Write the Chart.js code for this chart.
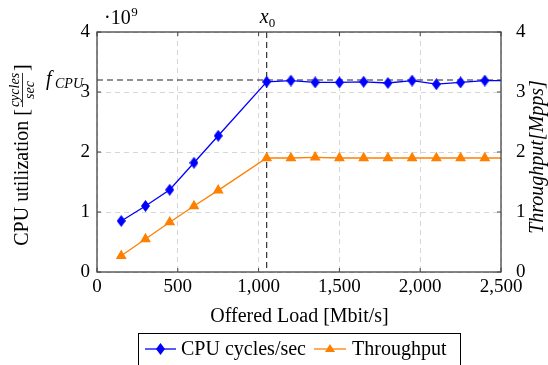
<!DOCTYPE html>
<html lang="en">
<head>
  <meta charset="UTF-8">
  <title>CPU cycles vs throughput</title>
  <script src="https://cdn.jsdelivr.net/npm/chart.js"></script>
  <style>
    html, body { margin: 0; padding: 0; background: #fff; }
    #wrap { width: 548px; height: 365px; }
  </style>
</head>
<body>
  <div id="wrap"><canvas id="chart" width="548" height="365"></canvas></div>

  <script>
    // offered load (Mbit/s), last point lies past the axis end and gets clipped
    const loads = [150, 300, 450, 600, 750, 1050, 1200, 1350, 1500, 1650, 1800, 1950, 2100, 2250, 2400, 2550];
    // CPU cycles/sec in units of 1e9
    const cpuCycles = [0.85, 1.10, 1.37, 1.82, 2.27, 3.17, 3.19, 3.16, 3.16, 3.17, 3.15, 3.19, 3.13, 3.16, 3.19, 3.19];
    // throughput in Mpps
    const throughput = [0.27, 0.55, 0.83, 1.10, 1.36, 1.90, 1.90, 1.91, 1.90, 1.90, 1.90, 1.90, 1.90, 1.90, 1.90, 1.90];
    const xRange = [0, 2500];
    const yRange = [0, 4];
    const fCpu = 3.2;
    const x0 = 1050;

    const SERIF = "'Liberation Serif', 'DejaVu Serif', serif";
    const BLUE = '#0000ff';
    const ORANGE = '#ff8000';

    // tall narrow diamond like pgfplots diamond*
    function diamond(color) {
      const c = document.createElement('canvas');
      c.width = 9; c.height = 12;
      const g = c.getContext('2d');
      g.fillStyle = color;
      g.beginPath();
      g.moveTo(4.5, 0); g.lineTo(9, 6); g.lineTo(4.5, 12); g.lineTo(0, 6);
      g.closePath(); g.fill();
      return c;
    }
    const diamondImg = diamond(BLUE);

    const lastHidden = ctx => ctx.dataIndex === loads.length - 1 ? 0 : 5;

    const extras = {
      id: 'extras',
      beforeDatasetsDraw(chart) {
        const { ctx, chartArea: a, scales } = chart;
        const yf = scales.y.getPixelForValue(fCpu);
        const xv = scales.x.getPixelForValue(x0);
        ctx.save();
        ctx.strokeStyle = '#222';
        ctx.lineWidth = 1.1;
        ctx.setLineDash([6, 4]);
        ctx.beginPath();
        ctx.moveTo(a.left, yf); ctx.lineTo(a.right, yf);
        ctx.moveTo(xv, a.top); ctx.lineTo(xv, a.bottom);
        ctx.stroke();
        ctx.restore();
      },
      afterDraw(chart) {
        const { ctx, chartArea: a, scales } = chart;
        ctx.save();
        // frame
        ctx.strokeStyle = '#444';
        ctx.lineWidth = 1.3;
        ctx.strokeRect(a.left, a.top, a.right - a.left, a.bottom - a.top);
        // inward tick marks
        ctx.lineWidth = 1;
        ctx.beginPath();
        scales.x.ticks.forEach(t => {
          const px = scales.x.getPixelForValue(t.value);
          ctx.moveTo(px, a.bottom); ctx.lineTo(px, a.bottom - 4);
          ctx.moveTo(px, a.top); ctx.lineTo(px, a.top + 4);
        });
        scales.y.ticks.forEach(t => {
          const py = scales.y.getPixelForValue(t.value);
          ctx.moveTo(a.left, py); ctx.lineTo(a.left + 4, py);
          ctx.moveTo(a.right, py); ctx.lineTo(a.right - 4, py);
        });
        ctx.stroke();

        ctx.fillStyle = '#000';
        ctx.textBaseline = 'alphabetic';
        // ·10^9
        ctx.font = '20px ' + SERIF;
        ctx.textAlign = 'left';
        ctx.fillText('\u00b710', 104, 24);
        const wPow = ctx.measureText('\u00b710').width;
        ctx.font = '13px ' + SERIF;
        ctx.fillText('9', 104 + wPow + 0.5, 16);
        // x0
        const xv = scales.x.getPixelForValue(x0);
        ctx.font = 'italic 20px ' + SERIF;
        ctx.textAlign = 'right';
        ctx.fillText('x', xv + 2, 23);
        ctx.font = '13px ' + SERIF;
        ctx.textAlign = 'left';
        ctx.fillText('0', xv + 2, 27);
        // f_CPU
        const yf = scales.y.getPixelForValue(fCpu);
        ctx.font = 'italic 20px ' + SERIF;
        ctx.fillText('f', 46, yf + 5);
        ctx.font = 'italic 14px ' + SERIF;
        ctx.fillText('CPU', 55, yf + 8);

        // x axis title
        ctx.font = '20px ' + SERIF;
        ctx.textAlign = 'center';
        ctx.fillText('Offered Load [Mbit/s]', (a.left + a.right) / 2 + 0.5, 322);

        // left axis title with fraction
        ctx.save();
        ctx.translate(28, 155);
        ctx.rotate(-Math.PI / 2);
        ctx.font = '20px ' + SERIF;
        const main = 'CPU utilization [';
        const wMain = ctx.measureText(main).width;
        ctx.font = 'italic 14px ' + SERIF;
        const wFrac = Math.max(ctx.measureText('cycles').width, ctx.measureText('sec').width);
        ctx.font = '20px ' + SERIF;
        let sx = -(wMain + wFrac + 4 + ctx.measureText(']').width) / 2;
        ctx.textAlign = 'left';
        ctx.fillText(main, sx, 0);
        sx += wMain + 2;
        ctx.font = 'italic 14px ' + SERIF;
        ctx.textAlign = 'center';
        ctx.fillText('cycles', sx + wFrac / 2, -9);
        ctx.fillText('sec', sx + wFrac / 2, 6);
        ctx.fillRect(sx, -6, wFrac, 0.8);
        ctx.font = '20px ' + SERIF;
        ctx.textAlign = 'left';
        ctx.fillText(']', sx + wFrac + 2, 0);
        ctx.restore();

        // right axis title
        ctx.save();
        ctx.translate(543, 157);
        ctx.rotate(-Math.PI / 2);
        ctx.font = 'italic 20px ' + SERIF;
        ctx.textAlign = 'center';
        ctx.fillText('Throughput[Mpps]', 0, 0);
        ctx.restore();

        // legend
        ctx.strokeStyle = '#000';
        ctx.lineWidth = 1;
        ctx.strokeRect(138.5, 333.5, 322, 34);
        const ly = 349;
        ctx.lineWidth = 1.3;
        ctx.strokeStyle = BLUE;
        ctx.beginPath(); ctx.moveTo(145, ly); ctx.lineTo(176, ly); ctx.stroke();
        ctx.drawImage(diamondImg, 160.5 - 4.5, ly - 6);
        ctx.strokeStyle = ORANGE;
        ctx.beginPath(); ctx.moveTo(314, ly); ctx.lineTo(346, ly); ctx.stroke();
        ctx.fillStyle = ORANGE;
        ctx.beginPath();
        ctx.moveTo(330, ly - 5); ctx.lineTo(335, ly + 3); ctx.lineTo(325, ly + 3);
        ctx.closePath(); ctx.fill();
        ctx.fillStyle = '#000';
        ctx.font = '20px ' + SERIF;
        ctx.textAlign = 'left';
        ctx.fillText('CPU cycles/sec', 181, 355);
        ctx.fillText('Throughput', 352, 355);
        ctx.restore();
      }
    };

    const gridStyle = { color: '#d6d6d6', lineWidth: 1, drawTicks: false };
    const tickFont = { family: SERIF, size: 19 };

    new Chart(document.getElementById('chart'), {
      type: 'line',
      data: {
        datasets: [{
          label: 'CPU cycles/sec',
          data: loads.map((x, i) => ({ x, y: cpuCycles[i] })),
          borderColor: BLUE,
          backgroundColor: BLUE,
          borderWidth: 1.3,
          pointStyle: diamondImg,
          pointRadius: lastHidden,
          yAxisID: 'y',
          tension: 0
        }, {
          label: 'Throughput',
          data: loads.map((x, i) => ({ x, y: throughput[i] })),
          borderColor: ORANGE,
          backgroundColor: ORANGE,
          borderWidth: 1.3,
          pointStyle: 'triangle',
          pointRadius: lastHidden,
          yAxisID: 'y2',
          tension: 0
        }]
      },
      options: {
        responsive: false,
        animation: false,
        layout: { padding: { top: 32, left: 0, right: 0, bottom: 0 } },
        plugins: { legend: { display: false }, tooltip: { enabled: false } },
        scales: {
          x: {
            type: 'linear',
            min: xRange[0], max: xRange[1],
            grid: gridStyle,
            border: { display: false, dash: [5, 4] },
            ticks: {
              stepSize: 500, padding: 4, color: '#000', font: tickFont, maxRotation: 0,
              callback: v => v.toLocaleString('en-US')
            },
            afterFit: s => { s.height = 93; }
          },
          y: {
            position: 'left',
            min: yRange[0], max: yRange[1],
            grid: gridStyle,
            border: { display: false, dash: [5, 4] },
            ticks: { stepSize: 1, padding: 7, color: '#000', font: tickFont },
            afterFit: s => { s.width = 97; }
          },
          y2: {
            position: 'right',
            min: yRange[0], max: yRange[1],
            grid: { display: false },
            border: { display: false },
            ticks: { stepSize: 1, padding: 7, color: '#000', font: tickFont },
            afterFit: s => { s.width = 47; }
          }
        }
      },
      plugins: [extras]
    });
  </script>
</body>
</html>
